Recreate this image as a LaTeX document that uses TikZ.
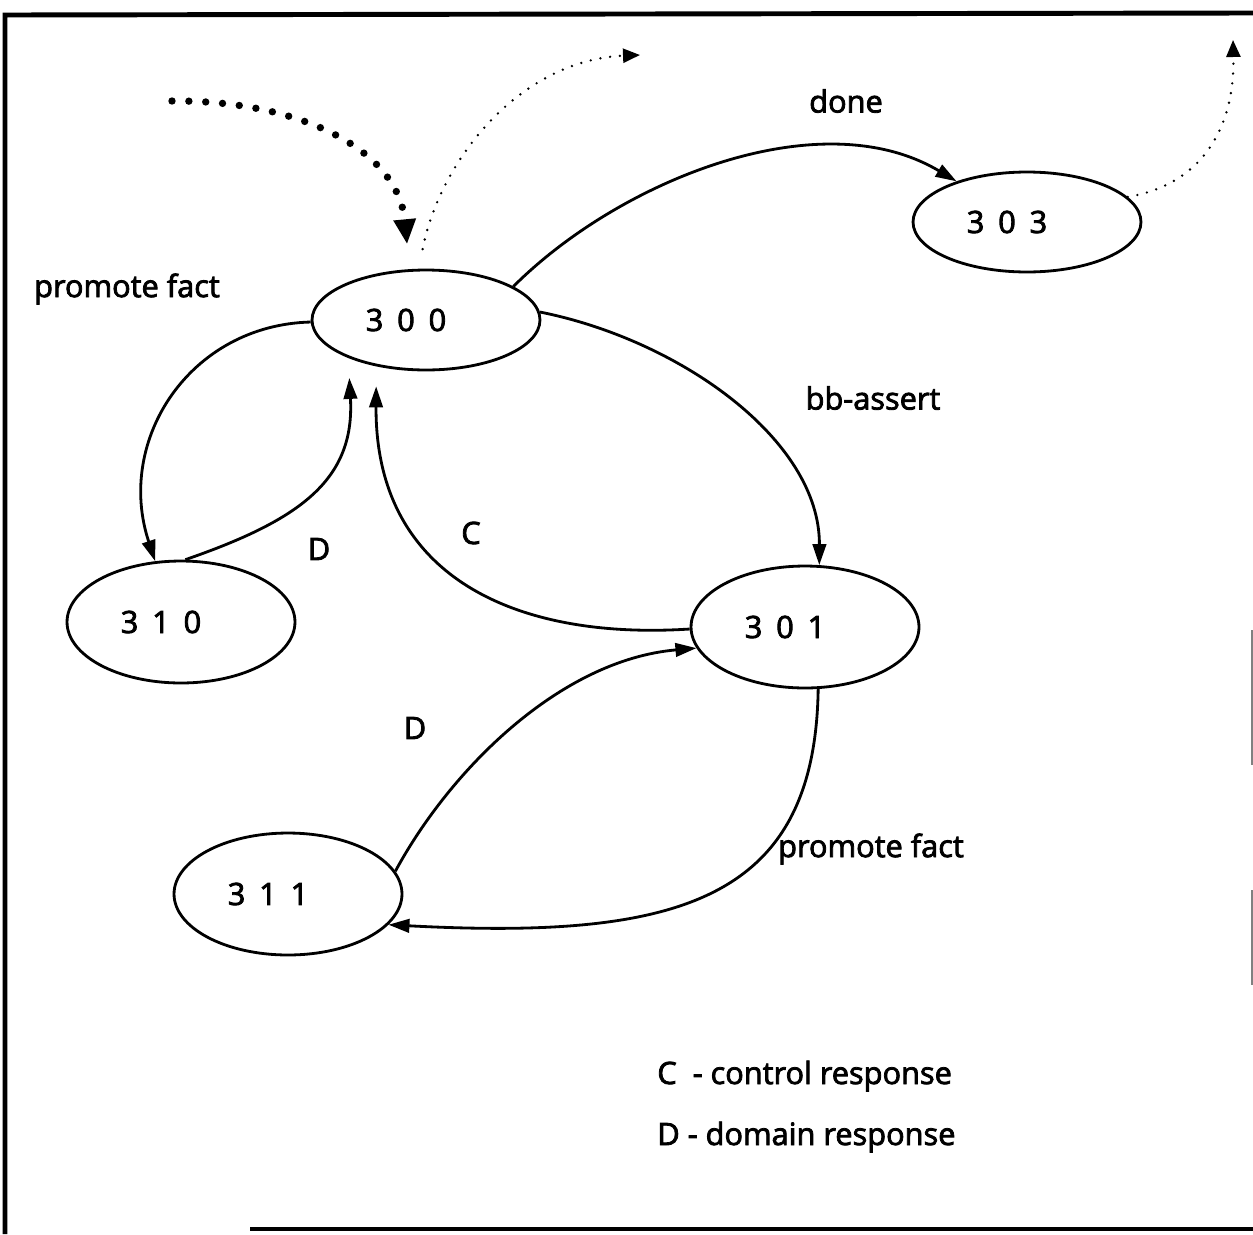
\documentclass[tikz,border=0pt]{standalone}
\usepackage{fontspec}
\setmainfont{Open Sans}[FakeBold=2.6]
\usetikzlibrary{arrows.meta,shapes.geometric}
\newcommand\dsp{\hspace{0.45em}}
\begin{document}
\begin{tikzpicture}[x=0.02cm,y=-0.02cm,
  every node/.style={font=\fontsize{17.5}{21}\selectfont},
  state/.style={draw,ellipse,line width=1.6pt,minimum width=4.56cm,minimum height=2cm,inner sep=0pt},
  tallstate/.style={state,minimum height=2.44cm},
  arc/.style={line width=1.6pt,-{Triangle[length=0.42cm,width=0.27cm]}},
  thickdot/.style={line width=4.2pt,line cap=round,dash pattern=on 0pt off 9.6pt,-{Triangle[length=0.5cm,width=0.42cm]}},
  thindot/.style={line width=1.5pt,line cap=round,dash pattern=on 0pt off 5.6pt,-{Triangle[length=0.34cm,width=0.28cm]}},
  frame/.style={line width=2.8pt},
  lbl/.style={inner sep=0pt}]
\useasboundingbox (0,0) rectangle (1253,1234);
% frame
\draw[frame] (5,1234) -- (5,15) -- (1253,13);
\draw[frame] (250,1229) -- (1253,1229);
\draw[line width=0.8pt,gray] (1252,630) -- (1252,765);
\draw[line width=0.8pt,gray] (1252,890) -- (1252,985);
% states
\node[state,label={[xshift=-0.4cm]center:3\dsp0\dsp0}] (s300) at (426,320) {};
\node[state,label={[xshift=-0.4cm]center:3\dsp0\dsp3}] (s303) at (1027,222) {};
\node[tallstate,label={[xshift=-0.4cm]center:3\dsp1\dsp0}] (s310) at (181,622) {};
\node[tallstate,label={[xshift=-0.4cm]center:3\dsp0\dsp1}] (s301) at (805,627) {};
\node[tallstate,label={[xshift=-0.4cm]center:3\dsp1\dsp1}] (s311) at (288,894) {};
% free ends
\coordinate (inStart) at (172,101);
\coordinate (out1) at (640,55);
\coordinate (out2) at (1233,40);
% connectors
\draw[arc] (s300.21) .. controls (620,180) and (820,100) .. (s303.150);
\draw[arc] (s300.4) .. controls (680,340) and (820,440) .. (s301.77);
\draw[arc,shorten >=0.4cm] (s301.181) .. controls (520,640) and (375,580) .. (s300.223);
\draw[arc] (s300.181) .. controls (190,325) and (115,440) .. (s310.113);
\draw[arc,shorten >=0.4cm] (s310.86) .. controls (300,520) and (355,480) .. (s300.206);
\draw[arc] (s311.12) .. controls (450,770) and (560,660) .. (s301.191);
\draw[arc] (s301.282) .. controls (815,900) and (680,940) .. (s311.343);
\draw[thickdot,shorten >=0.5cm] (inStart) .. controls (300,100) and (398,150) .. (s300.108);
\draw[thindot,shorten <=0.4cm] (s300.98) .. controls (440,160) and (520,60) .. (out1);
\draw[thindot] (s303.14) .. controls (1200,185) and (1235,130) .. (out2);
% labels
\node[lbl] (l1) at (127,289) {promote fact};
\node[lbl] (l2) at (846,101) {done};
\node[lbl] (l3) at (873,398) {bb-assert};
\node[lbl] (l4) at (319,549) {D};
\node[lbl] (l5) at (471,533) {C};
\node[lbl] (l6) at (415,728) {D};
\node[lbl] (l7) at (871,849) {promote fact};
\node[lbl,anchor=west] (k1) at (657,1076) {C\ \ - control response};
\node[lbl,anchor=west] (k2) at (657,1137) {D - domain response};
\end{tikzpicture}
\end{document}
